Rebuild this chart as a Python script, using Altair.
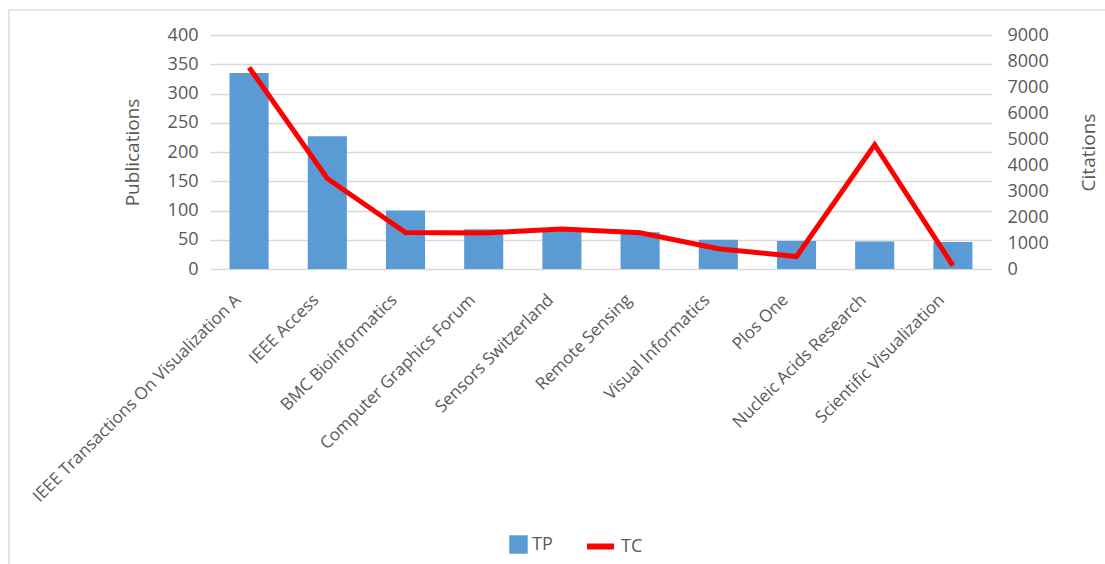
import altair as alt
import pandas as pd

journals = [
    "IEEE Transactions On Visualization A",
    "IEEE Access",
    "BMC Bioinformatics",
    "Computer Graphics Forum",
    "Sensors Switzerland",
    "Remote Sensing",
    "Visual Informatics",
    "Plos One",
    "Nucleic Acids Research",
    "Scientific Visualization",
]
tp = [335, 227, 100, 68, 66, 63, 50, 48, 47, 46]
tc = [7750, 3480, 1400, 1380, 1540, 1390, 780, 480, 4780, 130]

df = pd.DataFrame({"journal": journals, "TP": tp, "TC": tc,
                   "s_tp": ["TP"] * len(journals), "s_tc": ["TC"] * len(journals)})

FONT = "Open Sans"
GREY = "#595959"

x = alt.X("journal:N", sort=journals, title=None,
          scale=alt.Scale(paddingInner=0.5, paddingOuter=0.25),
          axis=alt.Axis(labelAngle=-45, labelAlign="right", labelBaseline="middle",
                        labelFontSize=17, labelColor=GREY, labelFont=FONT,
                        labelPadding=28, labelOffset=-11, ticks=False, domain=False,
                        labelLimit=400))

bars = alt.Chart(df).mark_bar(color="#5B9BD5").encode(
    x=x,
    y=alt.Y("TP:Q", title="Publications",
            scale=alt.Scale(domain=[0, 400], nice=False),
            axis=alt.Axis(values=list(range(0, 401, 50)), grid=True, gridColor="#D9D9D9",
                          gridWidth=1.3, ticks=False, domain=False, labelFontSize=18,
                          labelColor=GREY, labelFont=FONT, labelPadding=12,
                          titleFontSize=19, titleColor=GREY, titleFont=FONT,
                          titleFontWeight="normal", titlePadding=25, format="d")),
    color=alt.Color("s_tp:N", scale=alt.Scale(domain=["TP"], range=["#5B9BD5"]),
                    legend=alt.Legend(title=None, orient="none", legendX=299, legendY=500,
                                      symbolType="square", symbolSize=340,
                                      symbolStrokeWidth=0, labelFontSize=18,
                                      labelColor=GREY, labelFont=FONT, symbolOpacity=1)),
)

line = alt.Chart(df).mark_line(color="#FF0000", strokeWidth=5).encode(
    x=x,
    y=alt.Y("TC:Q", title="Citations",
            scale=alt.Scale(domain=[0, 9000], nice=False),
            axis=alt.Axis(orient="right", values=list(range(0, 9001, 1000)), grid=False,
                          ticks=False, domain=False, labelFontSize=18, labelColor=GREY,
                          labelFont=FONT, labelPadding=15, titleFontSize=19,
                          titleColor=GREY, titleFont=FONT, titleFontWeight="normal",
                          titleAngle=270, titlePadding=50, format="d")),
    stroke=alt.Stroke("s_tc:N", scale=alt.Scale(domain=["TC"], range=["#FF0000"]),
                      legend=alt.Legend(title=None, orient="none", legendX=374, legendY=495,
                                        symbolType="stroke", symbolSize=729,
                                        symbolStrokeWidth=6, labelFontSize=18,
                                        labelColor=GREY, labelFont=FONT)),
)

border = alt.Chart(df).mark_rule(color="#E4E4E4", strokeWidth=1.5).encode(
    x=alt.value(-201), x2=alt.value(895), y=alt.value(-25)
)
border_left = alt.Chart(df).mark_rule(color="#E4E4E4", strokeWidth=1.5).encode(
    x=alt.value(-201), y=alt.value(-25), y2=alt.value(529)
)

chart = alt.layer(border, border_left, bars, line).resolve_scale(y="independent").properties(
    width=782, height=234,
    autosize=alt.AutoSizeParams(type="none"),
    padding={"left": 210, "top": 35, "right": 113, "bottom": 295},
    background="white",
).configure_view(stroke=None)

chart.save("out.html", embed_options={"renderer": "svg", "actions": False})
